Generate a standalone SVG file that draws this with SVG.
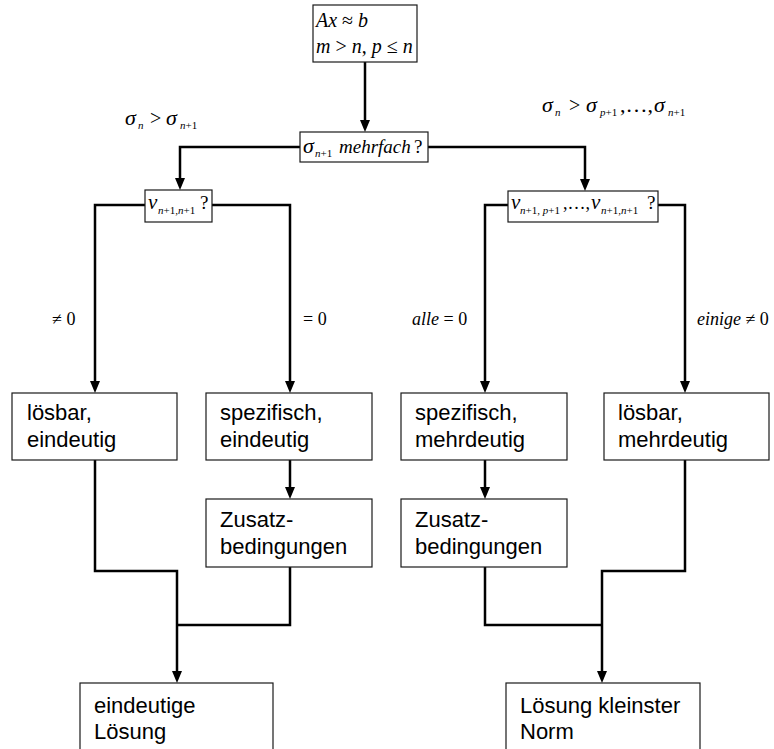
<svg xmlns="http://www.w3.org/2000/svg" width="774" height="749" viewBox="0 0 774 749">
<defs>
<marker id="ah" viewBox="0 0 12 10" refX="4" refY="5" markerWidth="12" markerHeight="10" markerUnits="userSpaceOnUse" orient="auto"><path d="M0,0 L12,5 L0,10 z" fill="#000"/></marker>
<style>
.box{fill:#fff;stroke:#1a1a1a;stroke-width:1.2}
.t{font-family:"Liberation Sans",Arial,sans-serif;font-size:22px;fill:#000}
.m{font-family:"Liberation Serif","Times New Roman",serif;fill:#000}
.i{font-style:italic}
.s{font-size:11px}
.g{font-size:22px;font-style:italic}
.c{fill:none;stroke:#000;stroke-width:2.5;stroke-linejoin:miter}
.a{marker-end:url(#ah)}
</style>
</defs>
<rect width="774" height="749" fill="#fff"/>

<g id="connectors">
<path class="c a" d="M365,62 V124"/>
<path class="c a" d="M300,147 H180 V182"/>
<path class="c a" d="M428,147 H585 V183"/>
<path class="c a" d="M145,205 H95 V385"/>
<path class="c a" d="M212,205 H290 V385"/>
<path class="c a" d="M508,205 H485 V385"/>
<path class="c a" d="M658,205 H685 V385"/>
<path class="c a" d="M290,460 V491"/>
<path class="c a" d="M485,460 V491"/>
<path class="c a" d="M95,460 V571 H177 V675"/>
<path class="c" d="M290,567 V625 H177"/>
<path class="c a" d="M685,460 V571 H602 V675"/>
<path class="c" d="M485,567 V625 H602"/>
</g>

<g id="labels">
<g id="lbl-left">
<text class="m g" x="125" y="125">σ</text>
<text class="m s i" x="138" y="129">n</text>
<text class="m" font-size="20" x="150" y="125">&gt;</text>
<text class="m g" x="166" y="125">σ</text>
<text class="m s" x="180" y="129"><tspan class="i">n</tspan>+1</text>
</g>
<g id="lbl-right">
<text class="m g" x="542" y="112">σ</text>
<text class="m s i" x="555" y="116">n</text>
<text class="m" font-size="20" x="569" y="112">&gt;</text>
<text class="m g" x="586" y="112">σ</text>
<text class="m s" x="600" y="116"><tspan class="i">p</tspan>+1</text>
<text class="m" font-size="22" x="620" y="112">,…,</text>
<text class="m g" x="654" y="112">σ</text>
<text class="m s" x="668" y="116"><tspan class="i">n</tspan>+1</text>
</g>
<text class="m" font-size="18" x="52" y="325">≠ 0</text>
<text class="m" font-size="18" x="303" y="325">= 0</text>
<text class="m" font-size="18" x="412" y="325"><tspan class="i">alle</tspan> = 0</text>
<text class="m" font-size="18" x="697" y="325"><tspan class="i">einige</tspan> ≠ 0</text>
</g>

<g id="n-start">
<rect class="box" x="313" y="5" width="104" height="57"/>
<text class="m" font-size="20" x="316" y="27"><tspan class="i">Ax</tspan> ≈ <tspan class="i">b</tspan></text>
<text class="m" font-size="20" x="316" y="53"><tspan class="i">m</tspan> &gt; <tspan class="i">n</tspan>, <tspan class="i">p</tspan> ≤ <tspan class="i">n</tspan></text>
</g>

<g id="n-mehrfach">
<rect class="box" x="300" y="132" width="128" height="30"/>
<text class="m i" font-size="22" x="303" y="153">σ</text>
<text class="m s" x="315" y="157"><tspan class="i">n</tspan>+1</text>
<text class="m i" font-size="19" x="339" y="153">mehrfach</text>
<text class="m" font-size="19" x="414" y="153">?</text>
</g>

<g id="n-v1">
<rect class="box" x="145" y="190" width="67" height="32"/>
<text class="m i" font-size="21" x="148" y="209">v</text>
<text class="m s" x="158" y="214"><tspan class="i">n</tspan>+1,<tspan class="i">n</tspan>+1</text>
<text class="m" font-size="19" x="200" y="209">?</text>
</g>

<g id="n-v2">
<rect class="box" x="508" y="191" width="150" height="31"/>
<text class="m i" font-size="21" x="511" y="209">v</text>
<text class="m s" x="520" y="214"><tspan class="i">n</tspan>+1, <tspan class="i">p</tspan>+1</text>
<text class="m" font-size="18" x="563" y="209">,…,</text>
<text class="m i" font-size="21" x="591" y="209">v</text>
<text class="m s" x="601" y="214"><tspan class="i">n</tspan>+1,<tspan class="i">n</tspan>+1</text>
<text class="m" font-size="19" x="647" y="209">?</text>
</g>

<g id="n-loesbar-ein">
<rect class="box" x="12" y="393" width="165" height="67"/>
<text class="t" x="27" y="420">lösbar,</text>
<text class="t" x="27" y="447">eindeutig</text>
</g>
<g id="n-spez-ein">
<rect class="box" x="206" y="393" width="166" height="67"/>
<text class="t" x="220" y="420">spezifisch,</text>
<text class="t" x="220" y="447">eindeutig</text>
</g>
<g id="n-spez-mehr">
<rect class="box" x="401" y="393" width="166" height="67"/>
<text class="t" x="415" y="420">spezifisch,</text>
<text class="t" x="415" y="447">mehrdeutig</text>
</g>
<g id="n-loesbar-mehr">
<rect class="box" x="604" y="393" width="165" height="67"/>
<text class="t" x="618" y="420">lösbar,</text>
<text class="t" x="618" y="447">mehrdeutig</text>
</g>

<g id="n-zusatz1">
<rect class="box" x="206" y="499" width="166" height="68"/>
<text class="t" x="220" y="527">Zusatz-</text>
<text class="t" x="220" y="554">bedingungen</text>
</g>
<g id="n-zusatz2">
<rect class="box" x="401" y="499" width="166" height="68"/>
<text class="t" x="415" y="527">Zusatz-</text>
<text class="t" x="415" y="554">bedingungen</text>
</g>

<g id="n-eindeutig">
<rect class="box" x="80" y="683" width="193" height="80"/>
<text class="t" x="94" y="713">eindeutige</text>
<text class="t" x="94" y="739">Lösung</text>
</g>
<g id="n-norm">
<rect class="box" x="506" y="683" width="194" height="80"/>
<text class="t" x="520" y="713">Lösung kleinster</text>
<text class="t" x="520" y="739">Norm</text>
</g>
</svg>
